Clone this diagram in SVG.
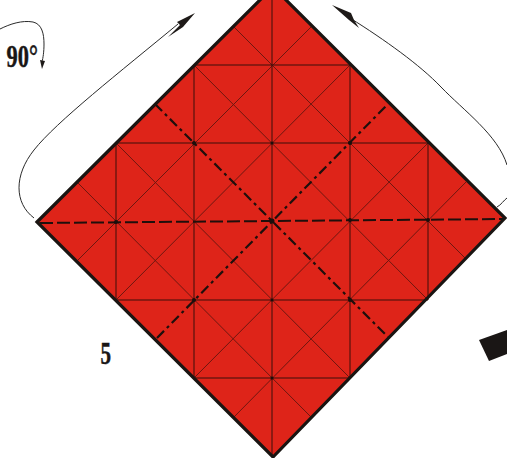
<svg xmlns="http://www.w3.org/2000/svg" width="507" height="458" viewBox="0 0 507 458">
<style>
.fold{fill:none;stroke:#3a0f0a;stroke-width:1}
.diag{fill:none;stroke:#6e1710;stroke-width:1}
.dd{fill:none;stroke:#1f0f0c;stroke-width:2.2;stroke-dasharray:10 4 3 4}
.dash{fill:none;stroke:#1f0f0c;stroke-width:2;stroke-dasharray:13 4}
.arc{fill:none;stroke:#2a2a2a;stroke-width:1}
.head{fill:#1e1a18}
.lbl{font-family:"Liberation Serif",serif;font-weight:bold;font-size:32px;fill:#1a1615;stroke:#1a1615;stroke-width:0.5}
.dot{fill:#1a0f0c}
</style>
<rect width="507" height="458" fill="#fff"/>
<g id="sheet">
<polygon points="37,222 273,-13 505,218 273,457" fill="#de2419"/>
</g>
<g id="folds">
<path class="diag" d="M233,26L466,259M194,65L428,300M116,143L350,378M78,183L311,417"/>
<path class="diag" d="M78,260L311,27M116,300L350,65M194,378L428,143M233,418L466,182"/>
<path class="fold" d="M194,65H350M116,143H428M116,300H428M195,378H350"/>
<path class="fold" d="M116,143V300M194,65V378M272,-13V457M350,65V378M428,143V300"/>
<path class="dd" d="M155,104L388,337"/>
<path class="dd" d="M157,338L387,105"/>
<path class="dash" d="M40,223L272,221L505,219"/>
<g class="dot">
<circle cx="116" cy="222" r="2"/><circle cx="194" cy="143" r="2"/><circle cx="194" cy="300" r="2"/><circle cx="272" cy="221" r="2.500"/><circle cx="350" cy="143" r="2"/><circle cx="350" cy="220" r="2"/><circle cx="350" cy="300" r="2"/><circle cx="428" cy="220" r="2"/><circle cx="272" cy="143" r="1.500"/><circle cx="272" cy="300" r="1.500"/><circle cx="272" cy="378" r="1.500"/>
</g>
<polygon points="37,222 273,-13 505,218 273,457" fill="none" stroke="#1a1512" stroke-width="3.2"/>
</g>
<g id="arrows">
<path class="arc" d="M34,218C14,203 14,175 34,150C56,122 120,72 178,24"/>
<polygon class="head" points="195,13 177,22 180,25 168,37 183,27"/>
<path class="arc" d="M350,18C385,40 420,65 441,87C463,110 498,135 507,165"/>
<polygon class="head" points="332,5 351,13 354,20 359,28 349,20"/>
<path class="arc" d="M497,207C501,205 504,200 507,198"/>
<path class="arc" d="M0,29C10,24 22,20 33,22C42,24 44,34 44,44C44,52 43,58 42,62"/>
<polygon class="head" points="42,69 40,60 45,61"/>
</g>
<g id="marker">
<polygon points="479,340 507,330 507,354 489,361" fill="#1a1615"/>
</g>
<g id="labels">
<text class="lbl" transform="translate(6.500,66.500) scale(0.7,1)">90°</text>
<text class="lbl" transform="translate(100.500,364) scale(0.66,1)">5</text>
</g>
</svg>
